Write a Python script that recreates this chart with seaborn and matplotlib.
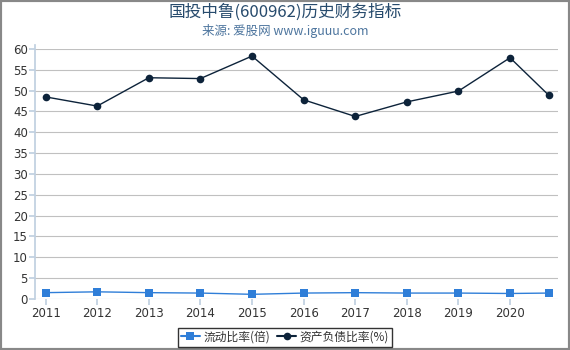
import matplotlib
matplotlib.use("Agg")
import matplotlib.pyplot as plt
import seaborn as sns
import pandas as pd
from matplotlib.patches import Rectangle
from matplotlib.lines import Line2D

dates = ["2011-12-31", "2012-12-31", "2013-12-31", "2014-12-31", "2015-12-31",
         "2016-12-31", "2017-12-31", "2018-12-31", "2019-12-31", "2020-12-31",
         "2021-09-30"]
current_ratio = [1.5, 1.7, 1.5, 1.4, 1.1, 1.4, 1.5, 1.4, 1.4, 1.3, 1.4]
debt_ratio = [48.5, 46.3, 53.1, 52.9, 58.3, 47.8, 43.8, 47.3, 49.9, 57.9, 48.9]
year_ticks = [2011, 2012, 2013, 2014, 2015, 2016, 2017, 2018, 2019, 2020]
name_cur = "流动比率(倍)"
name_debt = "资产负债比率(%)"


def pos(d):
    y, m, _ = d.split("-")
    # year-end reports sit on the year's tick; interim reports are offset by months
    return int(y) - 1 + int(m) / 12.0


x = [pos(d) for d in dates]
df = pd.DataFrame({"x": x * 2,
                   "value": current_ratio + debt_ratio,
                   "series": [name_cur] * len(x) + [name_debt] * len(x)})

sns.set_theme(style="white")
plt.rcParams["font.family"] = ["Noto Sans CJK SC", "DejaVu Sans"]

fig = plt.figure(figsize=(5.7, 3.5), dpi=100)
ax = fig.add_axes([0.061, 0.146, 0.918, 0.714])

palette = {name_cur: "#2f7ed8", name_debt: "#0d233a"}
sns.lineplot(data=df, x="x", y="value", hue="series", style="series",
             markers={name_cur: "s", name_debt: "o"}, dashes=False,
             palette=palette, markersize=5.5, linewidth=1.0,
             markeredgewidth=0, ax=ax, legend=False)

ax.set_xlim(2010.79, 2020.93)
ax.set_ylim(0, 60)
ax.set_yticks(range(0, 61, 5))
ax.set_xticks(year_ticks)
ax.set_xticklabels([str(t) for t in year_ticks])
ax.set_xlabel("")
ax.set_ylabel("")
ax.grid(axis="y", color="#c0c0c0", linewidth=0.8)
ax.set_axisbelow(True)
for s in ["top", "right", "bottom"]:
    ax.spines[s].set_visible(False)
ax.spines["left"].set_color("#c0d0e0")
ax.spines["left"].set_bounds(0, 61)
ax.tick_params(axis="y", length=4, color="#c0d0e0", labelsize=8.5,
               labelcolor="#333333", pad=1, left=True)
ax.tick_params(axis="x", length=4, color="#c0d0e0", labelsize=8.5,
               labelcolor="#333333", pad=2, bottom=True)
for lab in ax.get_xticklabels() + ax.get_yticklabels():
    lab.set_fontfamily("DejaVu Sans")

fig.text(0.5, 0.965, "国投中鲁(600962)历史财务指标", ha="center", va="center",
         fontsize=12, color="#274b6d")
fig.text(0.5, 0.91, "来源: 爱股网 www.iguuu.com", ha="center", va="center",
         fontsize=9, color="#4d759e")

handles = [Line2D([], [], color="#2f7ed8", marker="s", markersize=5.5,
                  markeredgewidth=0, linewidth=1.5),
           Line2D([], [], color="#0d233a", marker="o", markersize=5.5,
                  markeredgewidth=0, linewidth=1.5)]
leg = fig.legend(handles, [name_cur, name_debt], loc="center",
                 bbox_to_anchor=(0.5, 0.037), ncol=2, fontsize=8.5,
                 frameon=True, fancybox=False, handlelength=1.6,
                 handletextpad=0.3, columnspacing=0.6, borderpad=0.25,
                 labelcolor="#333333")
leg.get_frame().set_edgecolor("black")
leg.get_frame().set_linewidth(1.0)

fig.patches.append(Rectangle((0, 0), 1, 1, transform=fig.transFigure,
                             fill=False, edgecolor="#888888", linewidth=3))

fig.savefig("out.png", dpi=100)
